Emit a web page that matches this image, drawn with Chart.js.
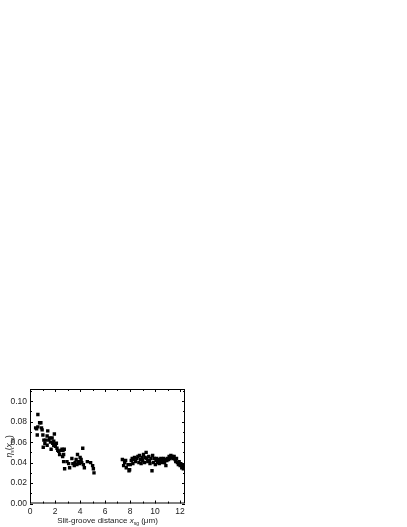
<!DOCTYPE html>
<html>
<head>
<meta charset="utf-8">
<script src="https://cdn.jsdelivr.net/npm/chart.js@4.4.1/dist/chart.umd.min.js"></script>
<style>
  html, body { margin: 0; padding: 0; background: #fff; }
  #wrap { position: relative; width: 407px; height: 527px; }
</style>
</head>
<body>
<div id="wrap"><canvas id="chart"></canvas></div>
<script>
// slit-groove distance (um)
const distance = [
    0.45, 0.53, 0.58, 0.63, 0.63, 0.77, 0.87, 0.92, 0.97, 1.03, 1.06, 1.11, 1.19, 1.24, 1.37, 1.37,
    1.42, 1.50, 1.58, 1.64, 1.69, 1.77, 1.82, 1.90, 1.90, 1.95, 1.98, 2.03, 2.11, 2.16, 2.22, 2.30,
    2.37, 2.48, 2.56, 2.61, 2.64, 2.69, 2.69, 2.74, 2.77, 2.96, 3.09, 3.17, 3.35, 3.43, 3.54, 3.61,
    3.69, 3.75, 3.80, 3.88, 3.96, 4.01, 4.09, 4.14, 4.22, 4.27, 4.35, 4.59, 4.85, 5.01, 5.07, 5.12,
    7.39, 7.49, 7.57, 7.65, 7.70, 7.84, 7.92, 7.97, 8.02, 8.10, 8.18, 8.23, 8.31, 8.36, 8.44, 8.55,
    8.63, 8.71, 8.76, 8.84, 8.89, 8.97, 9.02, 9.08, 9.16, 9.21, 9.29, 9.34, 9.42, 9.50, 9.55, 9.60,
    9.68, 9.76, 9.81, 9.87, 9.95, 10.03, 10.08, 10.13, 10.21, 10.29, 10.34, 10.42, 10.47, 10.55, 10.61, 10.69,
    10.77, 10.82, 10.87, 10.95, 11.00, 11.08, 11.13, 11.19, 11.27, 11.35, 11.40, 11.45, 11.53, 11.61, 11.66, 11.72,
    11.79, 11.87, 11.93, 12.01, 12.06, 12.14, 12.19, 12.27, 12.35
];
// efficiency eta_s
const efficiency = [
    0.074, 0.073, 0.067, 0.087, 0.075, 0.079, 0.079, 0.074, 0.072, 0.067, 0.055, 0.062, 0.059, 0.062, 0.066, 0.057,
    0.071, 0.062, 0.064, 0.060, 0.053, 0.064, 0.059, 0.061, 0.057, 0.068, 0.058, 0.056, 0.059, 0.054, 0.052, 0.051,
    0.048, 0.052, 0.053, 0.046, 0.052, 0.048, 0.041, 0.053, 0.034, 0.041, 0.039, 0.035, 0.044, 0.039, 0.037, 0.040,
    0.043, 0.038, 0.048, 0.041, 0.039, 0.045, 0.043, 0.040, 0.054, 0.038, 0.035, 0.041, 0.040, 0.037, 0.034, 0.030,
    0.043, 0.037, 0.040, 0.042, 0.035, 0.038, 0.032, 0.033, 0.038, 0.042, 0.044, 0.039, 0.043, 0.045, 0.041, 0.044,
    0.046, 0.040, 0.047, 0.043, 0.039, 0.045, 0.042, 0.048, 0.040, 0.045, 0.050, 0.044, 0.041, 0.046, 0.042, 0.039,
    0.044, 0.032, 0.047, 0.040, 0.044, 0.038, 0.042, 0.044, 0.040, 0.043, 0.039, 0.041, 0.044, 0.040, 0.042, 0.044,
    0.040, 0.043, 0.037, 0.042, 0.044, 0.043, 0.046, 0.044, 0.047, 0.045, 0.046, 0.044, 0.046, 0.043, 0.041, 0.044,
    0.040, 0.038, 0.041, 0.037, 0.039, 0.035, 0.037, 0.034, 0.036
];
const xTicks = [0, 2, 4, 6, 8, 10, 12];
const yTicks = [0.00, 0.02, 0.04, 0.06, 0.08, 0.10];

const FONT = '"Liberation Sans", Arial, sans-serif';
const INK = '#222';

// inward ticks on all four sides + axis titles with subscripts
const framePlugin = {
    id: 'frame',
    afterDraw(chart) {
        const ctx = chart.ctx;
        const { left, right, top, bottom } = chart.chartArea;
        const xs = chart.scales.x, ys = chart.scales.y;
        ctx.save();
        ctx.strokeStyle = '#000';
        ctx.lineWidth = 1;
        ctx.strokeRect(left + 0.5, top + 0.5, right - left - 1, bottom - top - 1);
        ctx.beginPath();
        for (let v = 0; v <= xs.max; v += 1) {
            const px = Math.round(xs.getPixelForValue(v)) + 0.5;
            const len = v % 2 === 0 ? 3 : 2;
            ctx.moveTo(px, bottom); ctx.lineTo(px, bottom - len);
            ctx.moveTo(px, top); ctx.lineTo(px, top + len);
        }
        for (let i = 0; i * 0.01 <= ys.max; i++) {
            const py = Math.round(ys.getPixelForValue(i * 0.01)) + 0.5;
            const len = i % 2 === 0 ? 3 : 2;
            ctx.moveTo(left, py); ctx.lineTo(left + len, py);
            ctx.moveTo(right, py); ctx.lineTo(right - len, py);
        }
        ctx.stroke();

        ctx.fillStyle = INK;
        ctx.textBaseline = 'alphabetic';
        // x title
        const parts = [
            ['Slit-groove distance ', 'normal 8px', 0],
            ['x', 'italic 8px', 0],
            ['sg', 'normal 5px', 2],
            [' (\u03bcm)', 'normal 8px', 0]
        ];
        let total = 0;
        parts.forEach(p => { ctx.font = p[1] + ' ' + FONT; total += ctx.measureText(p[0]).width; });
        let cx = (left + right) / 2 - total / 2;
        const by = bottom + 19.5;
        parts.forEach(p => {
            ctx.font = p[1] + ' ' + FONT;
            ctx.fillText(p[0], cx, by + p[2]);
            cx += ctx.measureText(p[0]).width;
        });
        // y title
        ctx.translate(left - 21, (top + bottom) / 2);
        ctx.rotate(-Math.PI / 2);
        const yparts = [
            ['\u03b7', 'italic 8.5px', 0],
            ['s', 'normal 5px', 2],
            ['(', 'normal 8.5px', 0],
            ['x', 'italic 8.5px', 0],
            ['sg', 'normal 5px', 2],
            [')', 'normal 8.5px', 0]
        ];
        total = 0;
        yparts.forEach(p => { ctx.font = p[1] + ' ' + FONT; total += ctx.measureText(p[0]).width; });
        cx = -total / 2;
        yparts.forEach(p => {
            ctx.font = p[1] + ' ' + FONT;
            ctx.fillText(p[0], cx, 3 + p[2]);
            cx += ctx.measureText(p[0]).width;
        });
        ctx.restore();
    }
};

const points = distance.map((x, i) => ({ x: x, y: efficiency[i] }));

new Chart(document.getElementById('chart'), {
    type: 'scatter',
    data: {
        datasets: [{
            data: points,
            backgroundColor: '#000',
            borderWidth: 0,
            pointStyle: 'rect',
            pointRadius: 2.4,
            pointHoverRadius: 2.4
        }]
    },
    options: {
        responsive: true,
        maintainAspectRatio: false,
        animation: false,
        layout: { padding: { left: 0, top: 389, right: 222, bottom: 0 } },
        plugins: { legend: { display: false }, tooltip: { enabled: false } },
        scales: {
            x: {
                type: 'linear',
                min: 0,
                max: 12.4,
                afterFit: s => { s.height = 23.5; },
                afterBuildTicks: s => { s.ticks = xTicks.map(v => ({ value: v })); },
                grid: { display: false, drawTicks: false },
                border: { display: false },
                ticks: { color: INK, font: { family: FONT, size: 8.5 }, padding: 3, maxRotation: 0 }
            },
            y: {
                type: 'linear',
                min: 0,
                max: 0.112,
                afterFit: s => { s.width = 30; },
                afterBuildTicks: s => { s.ticks = yTicks.map(v => ({ value: v })); },
                grid: { display: false, drawTicks: false },
                border: { display: false },
                ticks: {
                    color: INK,
                    font: { family: FONT, size: 8.5 },
                    padding: 3,
                    callback: v => v.toFixed(2)
                }
            }
        }
    },
    plugins: [framePlugin]
});
</script>
</body>
</html>
